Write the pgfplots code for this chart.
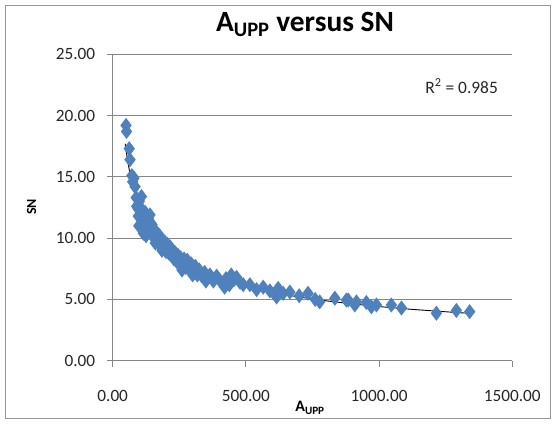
\documentclass[border=0pt]{standalone}
\usepackage{fontspec}
\setmainfont{Carlito}
\usepackage{pgfplots}
\pgfplotsset{compat=1.18}
\definecolor{excelblue}{RGB}{79,129,189}
\definecolor{gridgray}{RGB}{134,134,134}
\definecolor{framegray}{RGB}{150,150,150}

\begin{document}
\begin{tikzpicture}
\begin{axis}[
  name=ax, at={(0,0)}, anchor=south west,
  scale only axis, width=399.6bp, height=306.4bp,
  xmin=0, xmax=1500, ymin=0, ymax=25,
  xtick={0,500,1000,1500}, ytick={0,5,10,15,20,25},
  axis x line*=bottom, axis y line*=left,
  axis line style={gridgray, line width=0.9bp, -},
  ymajorgrids, major grid style={gridgray, line width=0.9bp},
  tick align=outside, major tick length=6bp,
  tick style={gridgray, line width=0.9bp},
  tick label style={font=\fontsize{17.3}{19}\selectfont, text=black!85,
    /pgf/number format/assume math mode=true,
    /pgf/number format/fixed, /pgf/number format/fixed zerofill,
    /pgf/number format/precision=2, /pgf/number format/1000 sep={}},
  yticklabel style={anchor=east, xshift=-8bp},
  xticklabel style={anchor=north, yshift=-20bp},
  clip=false,
]
% measured points
\addplot[only marks, mark=diamond*, mark size=6.4bp,
  mark options={fill=excelblue, draw=excelblue, line width=1.4bp}] table {
x y
50 19.2
52 18.7
62 17.3
65 16.4
72 15.1
75 14.6
80 14.9
84 14.2
88 13.3
90 12.6
95 12.4
96 11.8
98 11.0
100 13.0
104 12.5
108 13.4
110 11.6
112 12.2
115 11.0
115 10.4
118 11.8
120 10.6
122 12.1
125 10.2
126 11.3
130 10.9
134 11.6
138 10.7
140 11.9
145 10.3
148 11.1
152 10.8
156 10.1
160 10.6
160 9.6
164 9.9
168 10.3
172 9.6
176 10.2
180 9.4
185 9.9
185 9.0
190 9.2
195 9.7
200 8.9
205 9.5
210 8.8
215 9.3
220 8.6
225 9.0
230 8.3
235 8.8
240 8.1
245 8.6
250 8.0
255 8.4
260 7.4
262 7.8
268 8.3
275 7.6
280 8.2
288 7.5
295 7.9
300 7.0
302 7.3
310 7.7
318 7.0
325 7.4
335 6.9
345 7.2
350 6.5
355 6.8
365 7.0
378 6.5
390 6.9
400 6.6
412 6.3
420 6.0
425 6.7
438 6.2
445 7.0
455 6.6
465 6.8
478 6.4
490 6.2
515 6.2
540 5.8
565 6.0
590 5.7
615 5.2
621 5.9
640 5.5
665 5.6
700 5.3
733 5.5
760 5.0
777 4.8
834 5.1
877 4.95
884 4.95
909 4.55
915 4.8
952 4.75
971 4.4
990 4.55
1046 4.55
1084 4.3
1215 3.87
1290 4.1
1340 4.0
};
% trend line (power fit as drawn)
\addplot[black, line width=0.9bp, smooth] table {
x y
47 17.70
55 16.46
65 15.27
75 14.30
90 13.20
100 12.57
120 11.55
150 10.45
175 9.75
200 9.18
250 8.29
300 7.63
350 7.12
400 6.70
450 6.35
500 6.05
600 5.58
700 5.20
800 4.89
900 4.64
1000 4.42
1100 4.23
1200 4.07
1300 3.92
1340 3.87
};
\node[font=\fontsize{17.5}{19}\selectfont, text=black!85] at (axis cs:1310,22.4) {R\textsuperscript{2} = 0.985};
\end{axis}
\begin{scope}[shift={(ax.south west)}, x=1bp, y=1bp]
  \draw[framegray, line width=0.9bp] (-107.7,-57.3) rectangle (437.3,355.7);
  \node[font={\fontsize{29.5}{33}\selectfont\bfseries}] at (192.3,336.2) {A\textsubscript{UPP} versus SN};
  \node[font={\fontsize{14}{16}\selectfont\bfseries}, rotate=90] at (-81,153.7) {SN};
  \node[font={\fontsize{16}{18}\selectfont\bfseries}] at (197.3,-47.3) {A\textsubscript{UPP}};
  \pgfresetboundingbox
  \path[use as bounding box] (-112.7,-64.3) rectangle (442.3,360.7);
\end{scope}
\end{tikzpicture}
\end{document}
